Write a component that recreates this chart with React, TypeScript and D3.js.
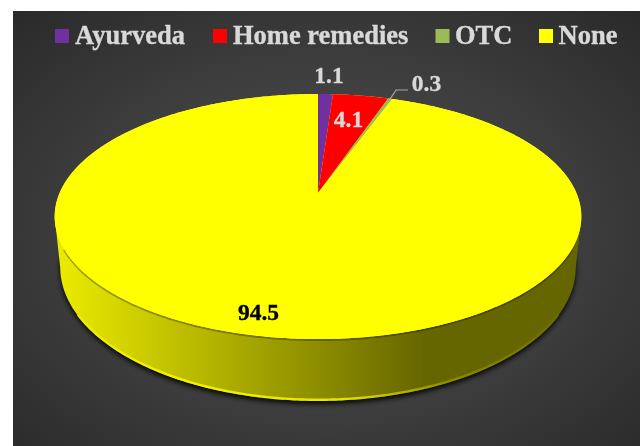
import React from "react";
import * as d3 from "d3";

const categories = ["Ayurveda", "Home remedies", "OTC", "None"];
const values = [1.1, 4.1, 0.3, 94.5];
const valueLabels = ["1.1", "4.1", "0.3", "94.5"];
const colors = ["#7030a0", "#ff0000", "#9bbb59", "#ffff00"];

const W = 640, H = 446;
const cx = 318, k = 0.192;
const TAU = Math.PI * 2;

// perspective projection of a unit disc lying on a plane
const project = (a: number, r: number, A: number, B: number, y0: number): [number, number] => {
  const u = r * Math.sin(a), v = r * Math.cos(a), w = 1 + k * v;
  return [cx + (A * u) / w, y0 - (B * v) / w];
};
const top = (a: number, r = 1) => project(a, r, 258.4, 118, 193);
const base = (a: number) => project(a, 1, 253, 129, 241.3);

const line = d3.line<[number, number]>().curve(d3.curveLinear);
const sample = (a0: number, a1: number) => {
  const n = Math.max(2, Math.ceil(Math.abs(a1 - a0) / 0.01));
  return d3.range(n + 1).map((i) => a0 + ((a1 - a0) * i) / n);
};

const arcs = d3.pie<number>().sort(null).value((d) => d)(values);

const discPath = (line(sample(0, TAU).map((a) => top(a))) ?? "") + "Z";
const baseAll = sample(0, TAU).map((a) => base(a));

// silhouette of the side wall: from the widest points of the top disc to the lower arc of the base
const anglesFull = sample(0, TAU);
const leftTopA = d3.least(anglesFull, (a) => top(a)[0])!;
const rightTopA = d3.greatest(anglesFull, (a) => top(a)[0])!;
const leftBaseA = d3.least(anglesFull, (a) => base(a)[0])!;
const rightBaseA = d3.greatest(anglesFull, (a) => base(a)[0])!;
const lowerArc = sample(rightBaseA, leftBaseA).map((a) => base(a));
const sidePath = (line([top(rightTopA), ...lowerArc, top(leftTopA)]) ?? "") + "Z";
const rimPath = line(sample(rightBaseA + 0.35, leftBaseA - 0.35).map((a) => {
  const p = base(a);
  return [p[0], p[1] - 1.2] as [number, number];
})) ?? "";
const topLowerPath = line(sample(rightTopA + 0.25, leftTopA - 0.25).map((a) => {
  const p = top(a);
  return [p[0], p[1] + 1] as [number, number];
})) ?? "";

const legendSquares = [55, 213, 435.5, 539];
const legendTexts = [75, 233, 455, 558.5];
const labelPos: [number, number, string][] = [
  [329, 83, "#d9d9d9"],
  [348.5, 127, "#d9d9d9"],
  [426.5, 91, "#d9d9d9"],
  [258.5, 320, "#000000"],
];

const serif = "'Liberation Serif', 'Times New Roman', serif";

export default function App() {
  const edge = top(arcs[2].startAngle + (arcs[2].endAngle - arcs[2].startAngle) / 2);
  return (
    <svg width={W} height={H} style={{ position: "absolute", left: 0, top: 0 }}>
      <defs>
        <radialGradient id="bg" cx="0.5" cy="0.52" r="0.72">
          <stop offset="0" stopColor="#555555" />
          <stop offset="1" stopColor="#2a2a2a" />
        </radialGradient>
        <linearGradient id="side" gradientUnits="userSpaceOnUse" x1="55" x2="582" y1="0" y2="0">
          <stop offset="0" stopColor="#ecec00" />
          <stop offset="0.7" stopColor="#666600" />
          <stop offset="1" stopColor="#666600" />
        </linearGradient>
        <linearGradient id="rim" gradientUnits="userSpaceOnUse" x1="55" x2="582" y1="0" y2="0">
          <stop offset="0" stopColor="#ecec00" />
          <stop offset="0.3" stopColor="#f2f200" />
          <stop offset="0.55" stopColor="#e4e400" />
          <stop offset="0.75" stopColor="#8a8a00" />
          <stop offset="1" stopColor="#666600" />
        </linearGradient>
        <filter id="blur" x="-10%" y="-10%" width="120%" height="120%">
          <feGaussianBlur stdDeviation="2.5" />
        </filter>
        <filter id="soft" x="-10%" y="-10%" width="120%" height="120%">
          <feGaussianBlur stdDeviation="0.7" />
        </filter>
        <filter id="textSoft" x="-5%" y="-20%" width="110%" height="140%">
          <feGaussianBlur stdDeviation="0.35" />
        </filter>
      </defs>
      <rect x={13} y={11} width={W - 13} height={H - 11} fill="url(#bg)" />

      <path d={(line(baseAll) ?? "") + "Z"} fill="#000" opacity={0.9} filter="url(#blur)" transform="translate(0,3)" />
      <path d={sidePath} fill="url(#side)" />
      <path d={rimPath} fill="none" stroke="url(#rim)" strokeWidth={2.4} filter="url(#soft)" />
      <path d={topLowerPath} fill="none" stroke="#000" strokeOpacity={0.3} strokeWidth={2} filter="url(#soft)" />
      <path d={discPath} fill="#ffff00" />

      {arcs.map((a, i) => {
        const pts: [number, number][] = [top(0, 0), ...sample(a.startAngle, a.endAngle).map((t) => top(t))];
        return <path key={categories[i]} d={(line(pts) ?? "") + "Z"} fill={colors[i]} />;
      })}

      <path
        d={line([[edge[0] - 0.5, edge[1] + 1], [edge[0] + 6, 90], [408, 90]]) ?? ""}
        fill="none"
        stroke="#a6a6a6"
        strokeWidth={1.2}
      />

      {categories.map((c, i) => (
        <g key={c}>
          <rect x={legendSquares[i]} y={29} width={14} height={14} fill={colors[i]} />
          <text
            x={legendTexts[i]}
            y={43.5}
            fontFamily={serif}
            fontWeight="bold"
            fontSize={26.5}
            fill="#d9d9d9"
            stroke="#d9d9d9"
            strokeWidth={0.35}
            filter="url(#textSoft)"
          >
            {c}
          </text>
        </g>
      ))}

      {valueLabels.map((t, i) => (
        <text
          key={t}
          x={labelPos[i][0]}
          y={labelPos[i][1]}
          textAnchor="middle"
          fontFamily={serif}
          fontWeight="bold"
          fontSize={23.5}
          fill={labelPos[i][2]}
          stroke={labelPos[i][2]}
          strokeWidth={0.35}
          filter="url(#textSoft)"
        >
          {t}
        </text>
      ))}
    </svg>
  );
}
